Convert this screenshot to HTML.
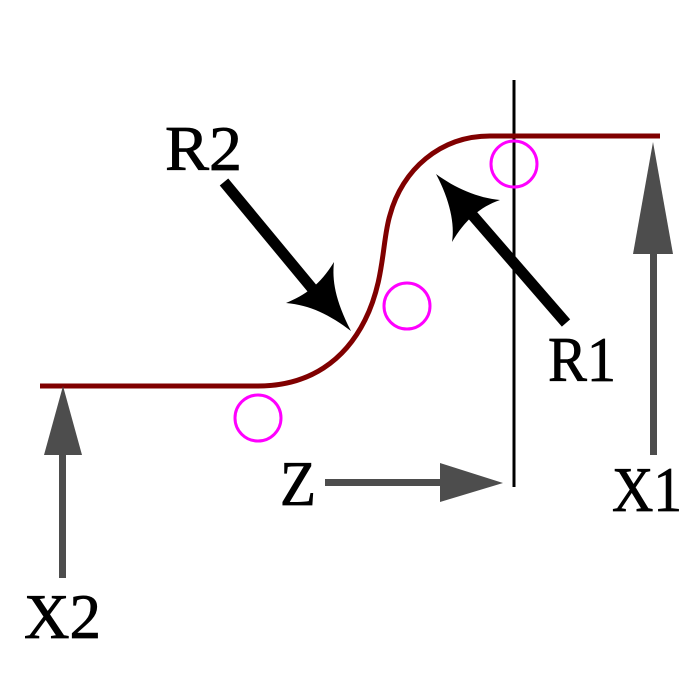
<!DOCTYPE html>
<html><head><meta charset="utf-8"><style>html,body{margin:0;padding:0;background:#fff}svg{display:block}</style></head>
<body>
<svg width="700" height="700" viewBox="0 0 700 700" xmlns="http://www.w3.org/2000/svg">
<rect width="700" height="700" fill="#fff"/>
<line x1="514" y1="80" x2="514" y2="487" stroke="#000" stroke-width="3"/>
<path d="M40,386 L258,386 C310,386 345,360 365,320 C385,280 382,240 390,215 C402,170 440,136 490,136 L660,136" fill="none" stroke="#800000" stroke-width="5"/>
<g fill="none" stroke="#ff00ff" stroke-width="3">
<circle cx="258" cy="418" r="23"/>
<circle cx="407" cy="306" r="23"/>
<circle cx="514" cy="164" r="23"/>
</g>
<line x1="224" y1="182" x2="330" y2="310" stroke="#000" stroke-width="11"/>
<path d="M351,331 C335,300 332,280 334,262 C320,285 305,295 286,303 C310,305 330,315 351,331 Z" fill="#000"/>
<line x1="566" y1="323" x2="468" y2="210" stroke="#000" stroke-width="11"/>
<path d="M436,174 C450,200 455,225 452,242 C465,220 480,207 500,200 C478,198 455,188 436,174 Z" fill="#000"/>
<g fill="#4d4d4d">
<rect x="650" y="250" width="7" height="205"/>
<polygon points="653,142 673,254 633,254"/>
<rect x="59" y="450" width="7" height="128"/>
<polygon points="63,386 82,455 44,455"/>
<rect x="325" y="479" width="120" height="7"/>
<polygon points="503,483 440,463 440,502"/>
</g>
<g font-family="Liberation Serif, serif" font-size="64" fill="#000" stroke="#000" stroke-width="0.8">
<text x="165" y="170" textLength="77" lengthAdjust="spacingAndGlyphs">R2</text>
<text x="548" y="381" textLength="68" lengthAdjust="spacingAndGlyphs">R1</text>
<text x="280" y="505" textLength="36" lengthAdjust="spacingAndGlyphs">Z</text>
<text x="612" y="511" textLength="70" lengthAdjust="spacingAndGlyphs">X1</text>
<text x="24" y="638" textLength="77" lengthAdjust="spacingAndGlyphs">X2</text>
</g>
</svg>
</body></html>
